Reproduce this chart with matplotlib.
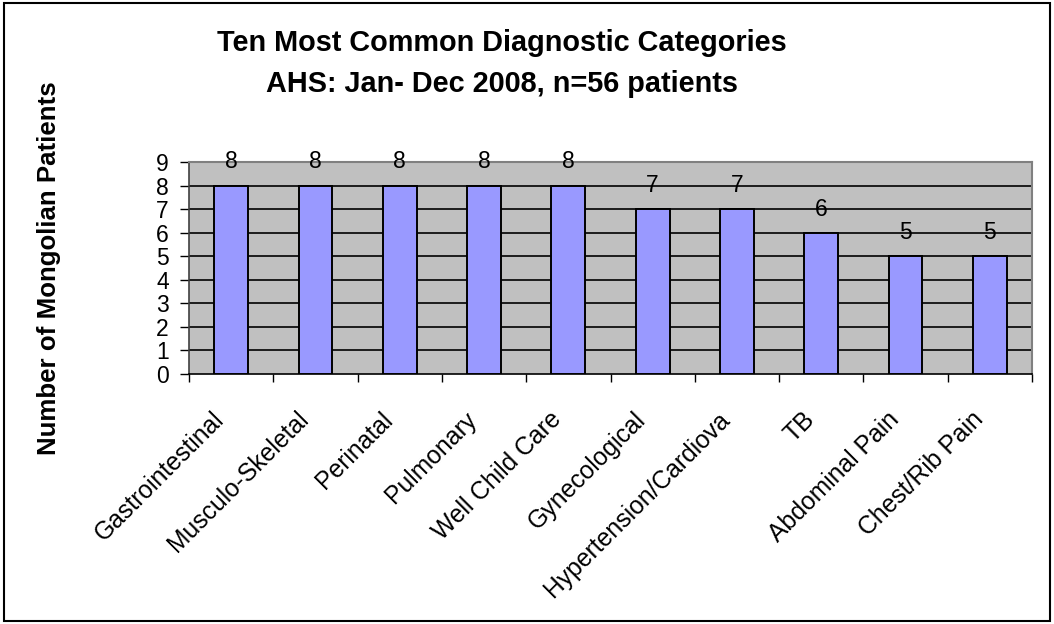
import matplotlib
matplotlib.use("Agg")
import matplotlib.pyplot as plt
from matplotlib.patches import Rectangle
from matplotlib.transforms import ScaledTranslation
import numpy as np

categories = ["Gastrointestinal", "Musculo-Skeletal", "Perinatal", "Pulmonary",
              "Well Child Care", "Gynecological", "Hypertension/Cardiova", "TB",
              "Abdominal Pain", "Chest/Rib Pain"]
values = [8, 8, 8, 8, 8, 7, 7, 6, 5, 5]
yticks = list(range(0, 10))

plt.rcParams['font.family'] = ['Liberation Sans', 'DejaVu Sans']

W, H = 1054, 624
fig = plt.figure(figsize=(W / 100, H / 100), dpi=100)
ax = fig.add_axes([189 / W, 1 - 374 / H, (1032 - 189) / W, (374 - 162) / H])

x = np.arange(len(categories))
ax.set_facecolor('#C0C0C0')
ax.bar(x, values, width=0.40, color='#9999FF', edgecolor='black', linewidth=1.4, zorder=3)
ax.set_xlim(-0.5, len(categories) - 0.5)
ax.set_ylim(0, 9)
ax.set_yticks(yticks)
ax.set_yticklabels([str(t) for t in yticks], fontsize=16.5)
for t in yticks[1:-1]:
    ax.axhline(t, color='black', linewidth=1.2, zorder=1)

ax.set_xticks(np.arange(-0.5, len(categories), 1.0))
ax.set_xticklabels([])
ax.set_xticks(x, minor=True)
ax.set_xticklabels(categories, minor=True, rotation=45, ha='right',
                   rotation_mode='anchor', fontsize=17.8)
ax.tick_params(axis='x', which='minor', length=0, pad=24)
ax.tick_params(axis='x', which='major', length=6, width=1, color='black', direction='out')
ax.tick_params(axis='y', length=6.5, width=1, direction='out', pad=8)
off = ScaledTranslation(-19 / 100, 0, fig.dpi_scale_trans)
for lbl in ax.get_xticklabels(minor=True):
    lbl.set_transform(lbl.get_transform() + off)

for s in ['top', 'right']:
    ax.spines[s].set_color('#808080')
    ax.spines[s].set_linewidth(1.5)
ax.spines['left'].set_color('#404040')
ax.spines['bottom'].set_color('black')
ax.spines['left'].set_linewidth(1.2)
ax.spines['bottom'].set_linewidth(1.2)

for xi, v in zip(x, values):
    ax.text(xi, v + 1.0, str(v), ha='center', va='center', fontsize=16.5, clip_on=False)

fig.text(502 / W, 1 - 43 / H, "Ten Most Common Diagnostic Categories", ha='center',
         va='center', fontsize=20.8, fontweight='bold')
fig.text(502 / W, 1 - 84 / H, "AHS: Jan- Dec 2008, n=56 patients", ha='center',
         va='center', fontsize=20.8, fontweight='bold')
fig.text(49 / W, 1 - 268 / H, "Number of Mongolian Patients", rotation=90, ha='center',
         va='center', fontsize=18.6, fontweight='bold')

fig.patches.append(Rectangle((4 / W, 3 / H), (1050 - 4) / W, (621 - 3) / H,
                             transform=fig.transFigure, fill=False,
                             edgecolor='black', linewidth=1.5))

fig.savefig("out.png", dpi=100)
